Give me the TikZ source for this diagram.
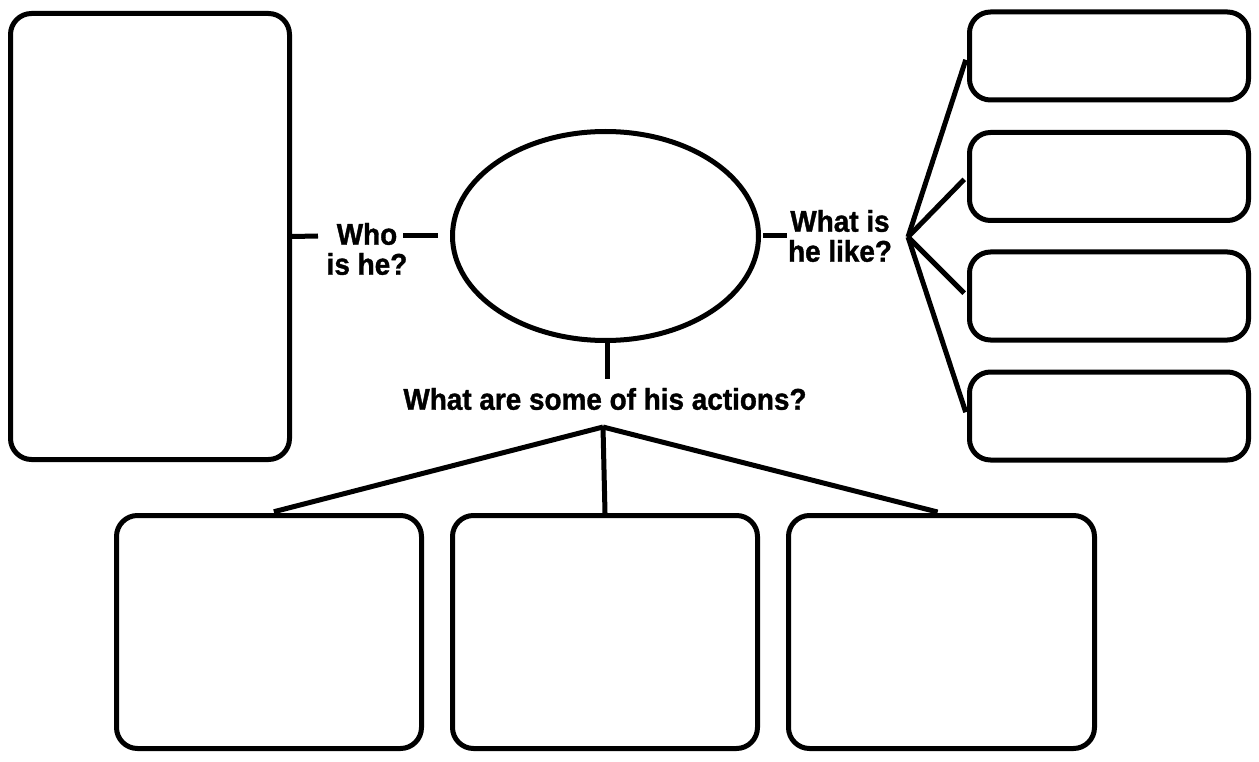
\documentclass[tikz,border=0pt]{standalone}
\usepackage{fontspec}
\setmainfont{Liberation Sans}[BoldFeatures={FakeStretch=0.93,FakeBold=1.2}]
\usetikzlibrary{shapes.geometric}
\begin{document}
\begin{tikzpicture}[x=1pt,y=-1pt,
  box/.style={draw=black,line width=5pt,rounded corners=21pt,inner sep=0pt,fill=white},
  conn/.style={draw=black,line width=5pt},
  lbl/.style={font=\bfseries\fontsize{30}{30}\selectfont,align=center,inner sep=0pt}]
\fill[white] (0,0) rectangle (1259,762);
\useasboundingbox (0,0) rectangle (1259,762);
% boxes
\node[box,minimum width=279pt,minimum height=446pt] (lbox) at (150,236.5) {};
\node[box,minimum width=279pt,minimum height=88pt] (r1) at (1109,56) {};
\node[box,minimum width=279pt,minimum height=88pt] (r2) at (1109,176.5) {};
\node[box,minimum width=279pt,minimum height=88pt] (r3) at (1109,296) {};
\node[box,minimum width=279pt,minimum height=88pt] (r4) at (1109,416) {};
\node[box,minimum width=305pt,minimum height=233pt] (b1) at (269,632) {};
\node[box,minimum width=305pt,minimum height=233pt] (b2) at (605,632) {};
\node[box,minimum width=306pt,minimum height=233pt] (b3) at (941.5,632) {};
% ellipse
\node[ellipse,draw=black,line width=5pt,minimum width=306pt,minimum height=209pt,inner sep=0pt] (ell) at (605.5,236) {};
% labels
\node[lbl] (who) at (367,249) {Who\\is he?};
\node[lbl] (like) at (840,236) {What is\\he like?};
\node[lbl] (act) at (605,399) {What are some of his actions?};
% coordinates
\coordinate (wl) at (318,236);
\coordinate (wr) at (403,236);
\coordinate (lk) at (787,236);
\coordinate (acttop) at (607,379);
\coordinate (hub) at (908,237);
\coordinate (apex) at (603,427);
% connectors
\draw[conn] (lbox.east) -- (wl);
\draw[conn] (wr) -- ([xshift=-12pt]ell.west);
\draw[conn] ([xshift=2pt]ell.east) -- (lk);
\draw[conn] ([xshift=1.5pt,yshift=2pt]ell.south) -- (acttop);
\draw[conn,shorten >=4pt] (hub) -- (r1.west);
\draw[conn,shorten >=4pt] (hub) -- (r2.west);
\draw[conn,shorten >=4pt] (hub) -- (r3.west);
\draw[conn,shorten >=4pt] (hub) -- (r4.west);
\draw[conn,shorten >=5pt] (apex) -- (b1.north);
\draw[conn] (apex) -- (b2.north);
\draw[conn,shorten >=4pt] (apex) -- (b3.north);
\end{tikzpicture}
\end{document}
